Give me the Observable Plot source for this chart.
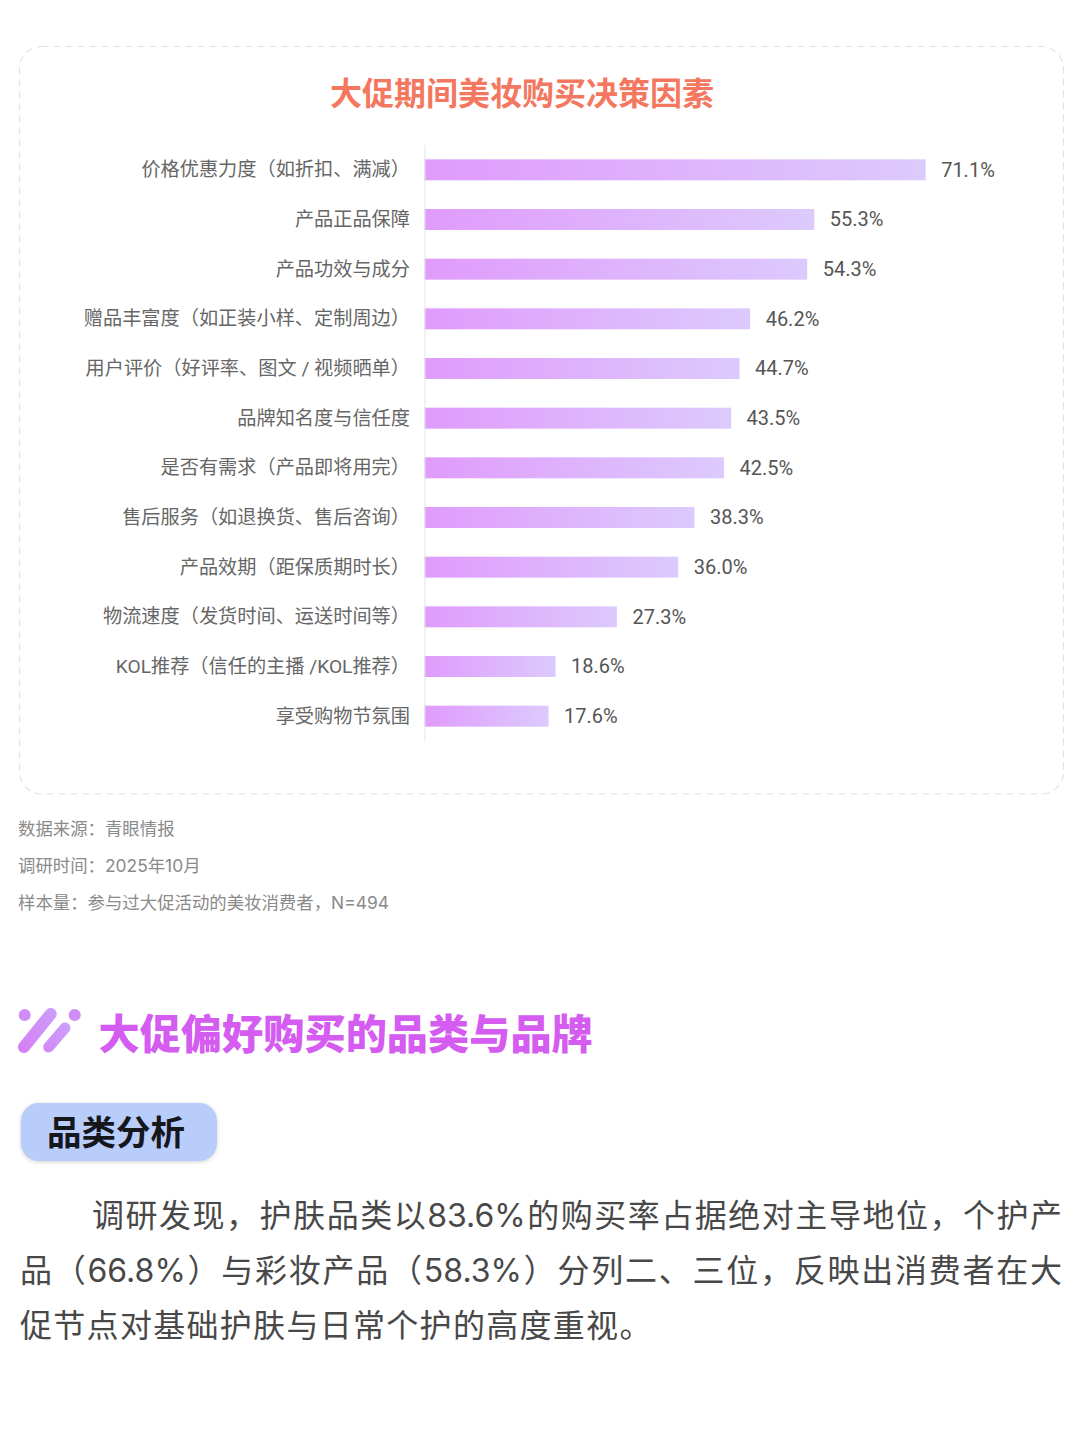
<!DOCTYPE html>
<html lang="zh"><head><meta charset="utf-8">
<script src="https://cdn.jsdelivr.net/npm/d3@7"></script>
<script src="https://cdn.jsdelivr.net/npm/@observablehq/plot@0.6"></script>
<style>
html,body{margin:0;padding:0;background:#fff;}
#page{position:relative;width:1080px;height:1440px;overflow:hidden;font-family:"Noto Sans CJK SC","Noto Sans",sans-serif;}
#page>*{position:absolute;}
#card{left:0;top:0;}
#title{left:0;width:1044px;top:68px;text-align:center;font-size:32px;line-height:46px;font-weight:700;color:#f4775f;}
#chart{left:0;top:145px;}
.note{left:18px;font-size:17.4px;line-height:24px;color:#8a8a8a;font-family:Inter,"Noto Sans CJK SC",sans-serif;white-space:nowrap;}
#icon{left:10px;top:1000px;}
#section{left:98.5px;top:1001.5px;font-size:41.2px;line-height:58px;font-weight:900;color:#d45cf0;white-space:nowrap;}
#pill{left:21px;top:1103px;width:170px;height:58px;padding-left:26px;border-radius:18px;background:#b9cdfb;box-shadow:0 1px 4px rgba(0,0,0,.18);color:#15171c;font-size:34.5px;font-weight:700;line-height:54px;}
.para{left:20px;width:1042px;font-size:32px;line-height:55px;height:55px;color:#484848;font-family:Inter,"Noto Sans CJK SC",sans-serif;text-align:justify;text-align-last:justify;white-space:nowrap;}
</style></head>
<body><div id="page">
<svg id="card" width="1080" height="810"><rect x="19.5" y="46.5" width="1044" height="747.5" rx="22" fill="none" stroke="#e2e2e2" stroke-width="1.2" stroke-dasharray="7 5"/></svg>
<div id="title"></div>
<div id="chart"></div>
<div class="note" style="top:817px"></div>
<div class="note" style="top:854px"></div>
<div class="note" style="top:891px"></div>
<svg id="icon" width="80" height="60" viewBox="0 0 80 60">
<defs><linearGradient id="ig" gradientUnits="userSpaceOnUse" x1="8" y1="56" x2="70" y2="8"><stop offset="0" stop-color="#d67cf5"/><stop offset="1" stop-color="#c8aafb"/></linearGradient></defs>
<circle cx="14.7" cy="15" r="6" fill="#cf8df7"/>
<line x1="14" y1="47" x2="40.7" y2="14" stroke="url(#ig)" stroke-width="12" stroke-linecap="round"/>
<line x1="38.7" y1="47" x2="55" y2="28" stroke="url(#ig)" stroke-width="11" stroke-linecap="round"/>
<circle cx="64.7" cy="15" r="6" fill="#cf8df7"/>
</svg>
<div id="section"></div>
<div id="pill"></div>
<div class="para" style="top:1188px;left:92px;width:970px"></div>
<div class="para" style="top:1243px"></div>
<div class="para" style="top:1298px;text-align-last:left;width:auto;letter-spacing:1.3px"></div>
</div>
<script>
const chartTitle = "大促期间美妆购买决策因素";
const categories = ["价格优惠力度（如折扣、满减）","产品正品保障","产品功效与成分","赠品丰富度（如正装小样、定制周边）","用户评价（好评率、图文 / 视频晒单）","品牌知名度与信任度","是否有需求（产品即将用完）","售后服务（如退换货、售后咨询）","产品效期（距保质期时长）","物流速度（发货时间、运送时间等）","KOL推荐（信任的主播 /KOL推荐）","享受购物节氛围"];
const values = [71.1,55.3,54.3,46.2,44.7,43.5,42.5,38.3,36.0,27.3,18.6,17.6];
const xMax = 93;
const notes = ["数据来源：青眼情报","调研时间：2025年10月","样本量：参与过大促活动的美妆消费者，N=494"];
const sectionTitle = "大促偏好购买的品类与品牌";
const pillText = "品类分析";
const paragraph = ["调研发现，护肤品类以83.6%的购买率占据绝对主导地位，个护产","品（66.8%）与彩妆产品（58.3%）分列二、三位，反映出消费者在大","促节点对基础护肤与日常个护的高度重视。"];

const rows = categories.map((c,i)=>({c,v:values[i]}));
const chart = Plot.plot({
  width:1080, height:596,
  marginLeft:424.5, marginRight:0, marginTop:0, marginBottom:0,
  style:{background:"transparent",fontFamily:'Roboto,"Noto Sans CJK SC",sans-serif'},
  x:{domain:[0,xMax],axis:null},
  y:{domain:categories,paddingInner:0.578,paddingOuter:0.289,round:false,label:null},
  marks:[
    ()=>{
      const ns="http://www.w3.org/2000/svg";
      const defs=document.createElementNS(ns,"defs");
      const g=document.createElementNS(ns,"linearGradient");
      g.setAttribute("id","barGrad");
      [["0","#e09bfb"],["1","#dccafd"]].forEach(([o,c])=>{
        const s=document.createElementNS(ns,"stop");
        s.setAttribute("offset",o);s.setAttribute("stop-color",c);g.appendChild(s);
      });
      defs.appendChild(g);return defs;
    },
    Plot.barX(rows,{x:"v",y:"c",fill:"url(#barGrad)"}),
    Plot.ruleX([0],{stroke:"#e4e4e4",strokeWidth:1}),
    Plot.axisY({tickSize:0,tickPadding:15,fontSize:19.2,fill:"#666",label:null,lineWidth:40,textOverflow:null}),
    Plot.text(rows,{x:"v",y:"c",text:d=>d.v.toFixed(1)+"%",textAnchor:"start",dx:15,fontSize:20,fill:"#555"})
  ]
});
document.getElementById("chart").appendChild(chart);
document.getElementById("title").textContent=chartTitle;
document.querySelectorAll(".note").forEach((n,i)=>n.textContent=notes[i]);
document.getElementById("section").textContent=sectionTitle;
document.getElementById("pill").textContent=pillText;
document.querySelectorAll(".para").forEach((n,i)=>n.textContent=paragraph[i]);
</script>
</body></html>
